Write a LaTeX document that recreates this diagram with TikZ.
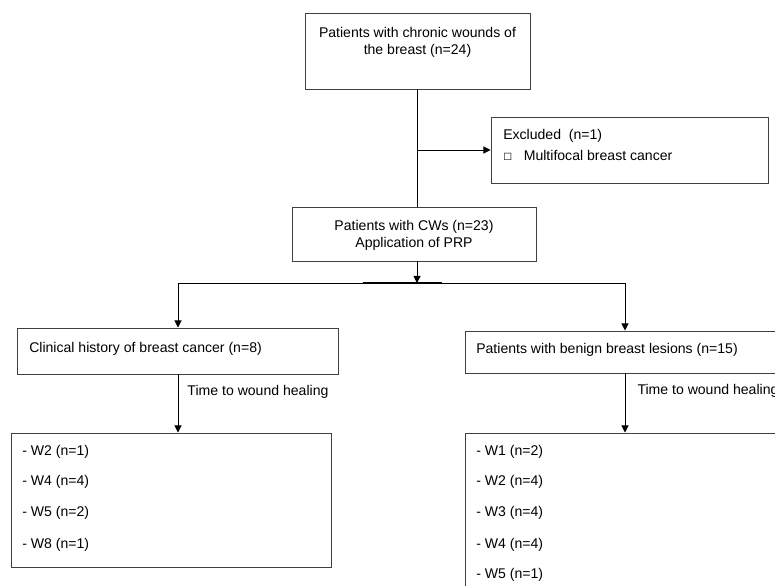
\documentclass[tikz,border=0pt]{standalone}
\usepackage{fontspec}
\setmainfont{Liberation Sans}
\newfontfamily\symfont{DejaVu Sans}
\usepackage{tikz}
\usetikzlibrary{arrows.meta}
\usetikzlibrary{positioning}

\newcommand{\pxu}{0.025cm}
\tikzset{
  box/.style={draw=black!75, line width=0.7pt, inner sep=0pt},
  txt/.style={inner sep=0pt, font=\fontsize{10}{12}\selectfont},
  link/.style={line width=0.7pt},
  arr/.style={line width=0.7pt, -{Triangle[length=5pt,width=5pt]}},
}

\begin{document}
\begin{tikzpicture}[x=0.025cm, y=-0.025cm]
    		\useasboundingbox (0,0) rectangle (775,585);
    		\clip (0,0) rectangle (775,585);
    		% boxes
    		\node[box, minimum width=225*\pxu, minimum height=76*\pxu] (top) at (417.5,51) {};
    		\node[box, minimum width=277*\pxu, minimum height=66*\pxu] (exc) at (629.5,150) {};
    		\node[box, minimum width=244*\pxu, minimum height=54*\pxu] (cws) at (414,234) {};
    		\node[box, minimum width=321*\pxu, minimum height=46*\pxu] (clin) at (177.5,351) {};
    		\node[box, minimum width=320*\pxu, minimum height=42*\pxu] (benign) at (625,352) {};
    		\node[box, minimum width=320*\pxu, minimum height=134*\pxu] (wl) at (171,500) {};
    		\node[box, minimum width=320*\pxu, minimum height=170*\pxu] (wr) at (625,518) {};
    		% texts
    		\node[txt, align=center] (topT) at (417.5,42) {Patients with chronic wounds of\\the breast (n=24)};
    		\node[txt, anchor=west] (excT) at (503,136) {Excluded~~(n=1)};
    		\node[txt, anchor=west] (excB) at (503,155) {{\symfont\fontsize{7}{8}\selectfont ☐}~~~Multifocal breast cancer};
    		\node[txt, align=center] (cwsT) at (414,235) {Patients with CWs (n=23)\\Application of PRP};
    		\node[txt, anchor=west] (clinT) at (29,349) {Clinical history of breast cancer (n=8)};
    		\node[txt, anchor=west] (benignT) at (476,350) {Patients with benign breast lesions (n=15)};
    		\node[txt, anchor=west] (l1) at (22,452) {- W2 (n=1)};
    		\node[txt, anchor=west] (l2) at (22,482) {- W4 (n=4)};
    		\node[txt, anchor=west] (l3) at (22,513) {- W5 (n=2)};
    		\node[txt, anchor=west] (l4) at (22,545) {- W8 (n=1)};
    		\node[txt, anchor=west] (r1) at (476,452) {- W1 (n=2)};
    		\node[txt, anchor=west] (r2) at (476,482) {- W2 (n=4)};
    		\node[txt, anchor=west] (r3) at (476,513) {- W3 (n=4)};
    		\node[txt, anchor=west] (r4) at (476,545) {- W4 (n=4)};
    		\node[txt, anchor=west] (r5) at (476,575) {- W5 (n=1)};
    		% connectors
    		\coordinate (tx) at (417,100);
    		\coordinate (jL) at (178,283);
    		\coordinate (jR) at (625,283);
    		\draw[link] (top.south -| tx) -- (cws.north -| tx);
    		\draw[arr] (tx |- exc.west) -- (exc.west);
    		\draw[arr] (cws.south -| tx) -- (tx |- jL);
    		\draw[link] (jL) -- (jR);
    		\draw[line width=2pt] (363,283) -- (442,283);
    		\draw[arr] (jL) -- (jL |- clin.north);
    		\draw[arr] (jR) -- (benign.north);
    		\draw[arr] (clin.south -| jL) -- (jL |- wl.north)
    		    node[txt, pos=0.3, anchor=west, xshift=9*\pxu] (timeL) {Time to wound healing};
    		\draw[arr] (benign.south) -- (wr.north)
    		    node[txt, pos=0.3, anchor=west, xshift=12*\pxu] (timeR) {Time to wound healing};
    		\end{tikzpicture}
\end{document}
